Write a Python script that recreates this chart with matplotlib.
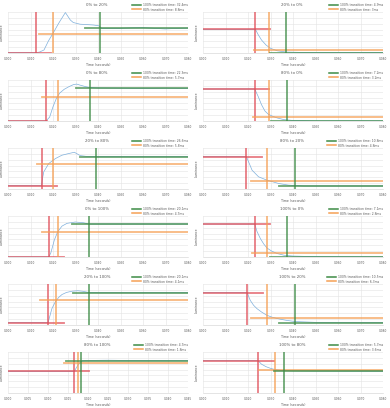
import numpy as np
import matplotlib.pyplot as plt
from matplotlib.lines import Line2D

# titles and legend values
titles = ['0% to 20%', '20% to 0%', '0% to 80%', '80% to 0%',
          '20% to 80%', '80% to 20%', '0% to 100%', '100% to 0%',
          '20% to 100%', '100% to 20%', '80% to 100%', '100% to 80%']
t100 = ['32.4ms', '4.9ms', '22.3ms', '7.2ms', '26.6ms', '10.8ms',
        '20.1ms', '7.1ms', '20.1ms', '10.5ms', '4.7ms', '5.7ms']
t80 = ['8.8ms', '3ms', '5.7ms', '3.2ms', '5.8ms', '4.8ms',
       '4.7ms', '2.8ms', '4.1ms', '6.3ms', '1.8ms', '3.6ms']

# x range (ms) and tick step (ms)
xmax_ms = [80, 80, 80, 80, 80, 80, 80, 80, 80, 80, 45, 80]
xstep_ms = [10, 10, 10, 10, 10, 10, 10, 10, 10, 10, 5, 10]

# marker lines (ms)
red_x = [12.5, 23.3, 16.9, 23.0, 14.9, 19.3, 18.1, 23.0, 17.8, 19.6, 16.6, 24.5]
orange_x = [19.9, 29.5, 22.1, 29.5, 19.9, 28.4, 22.1, 28.4, 21.5, 28.4, 17.5, 31.8]
green_x = [40.9, 36.8, 36.5, 37.3, 39.0, 40.9, 35.8, 37.3, 35.8, 40.7, 18.2, 35.8]
red_end = [18.9, 29.9, 17.4, 29.5, 21.8, 26.2, 24.7, 29.9, 24.7, 26.7, 20.2, 31.4]
orange_from = [13.7, 22.5, 15.2, 22.1, 13.0, 21.5, 15.2, 21.8, 14.4, 21.5, 14.0, 24.7]
green_from = [34.3, 29.9, 30.3, 30.3, 32.1, 33.9, 28.4, 29.9, 28.9, 33.9, 14.4, 31.4]

# levels (luminance, % of axis)
start_lvl = [1.6, 57.6, 1.0, 77.6, 8.8, 78.4, 1.0, 80.0, 6.4, 78.4, 52.8, 78.4]
mid_lvl = [45.6, 8.0, 59.0, 9.6, 61.6, 19.2, 60.0, 11.2, 60.8, 16.8, 72.8, 56.0]
end_lvl = [60.0, 1.6, 79.0, 1.0, 78.4, 8.0, 80.0, 1.0, 78.4, 6.4, 78.4, 52.8]

# measured curves
curve_t = [
    [0, 12.5, 14, 16, 18, 20, 22.5, 25.5, 27.7, 29, 32, 38, 40.5, 41.5, 50, 55, 60, 65, 70, 75, 80],
    [0, 23.3, 24.5, 26, 28, 30, 33, 37, 45, 80],
    [0, 16.9, 18.5, 20, 21.5, 23, 25, 27, 29, 30.5, 32, 34, 36.5, 40, 50, 60, 70, 80],
    [0, 23.0, 24.5, 26, 27.5, 29, 31, 33, 36, 40, 50, 80],
    [0, 14.9, 15.3, 15.9, 18.1, 21.1, 24, 27, 29.5, 32.1, 35, 45, 60, 80],
    [0, 19.3, 21.8, 24.7, 28.4, 33.6, 38, 45, 80],
    [0, 18.1, 19, 20.6, 22.1, 24, 26.2, 29.9, 33.6, 35.8, 40, 80],
    [0, 23.0, 24, 25.5, 27, 28.5, 30.5, 33, 36, 40, 50, 80],
    [0, 17.8, 18.5, 19.5, 21, 22.5, 24, 26, 28.5, 31, 33, 35.8, 40, 80],
    [0, 19.6, 21, 22.5, 24, 26, 28.4, 31, 34, 37, 41, 50, 80],
    [0, 16.6, 17, 17.5, 18, 18.5, 20, 25, 30, 40, 45],
    [0, 24.5, 26, 28, 30, 32, 35, 40, 50, 80],
]
curve_y = [
    [1.6, 1.6, 3, 8, 30, 48, 72, 98, 80, 74, 70, 68, 66, 60, 60, 61, 61.5, 60, 58.5, 60, 60.5],
    [57.6, 57.6, 45, 32, 20, 12, 6, 3, 2, 1.5],
    [1, 1, 10, 35, 55, 68, 77, 83, 88, 89.5, 87, 84, 81, 80, 79.5, 79, 79.5, 79],
    [77.6, 77.6, 60, 40, 25, 17, 12, 8, 4, 2, 1, 1],
    [8.8, 8.8, 25, 42, 62, 74, 82, 86, 89, 81, 79, 78.5, 78.4, 78.4],
    [78.4, 78.4, 46, 30, 22, 14, 10, 8, 8],
    [1, 1, 10, 41.6, 61.6, 75, 81.6, 84.8, 83, 80, 80, 80],
    [80, 80, 62, 45, 32, 22, 15, 9, 5, 3, 1.5, 1],
    [6.4, 6.4, 20, 40, 56, 67, 74, 79, 82, 83, 82, 79, 78.4, 78.4],
    [78.4, 78.4, 60, 48, 40, 32, 24, 19, 15, 12, 9, 7, 6.4],
    [52.8, 52.8, 60, 68, 74, 78, 79, 79.5, 79, 78.5, 79],
    [78.4, 78.4, 70, 64, 60, 57, 55, 54, 53.5, 53],
]

RED = '#e0505a'
ORANGE = '#f5a055'
GREEN = '#3d8b45'
BLUE = '#7fb0dc'
TXT = '#595959'

W, H = 390, 408
fig = plt.figure(figsize=(W / 100, H / 100), dpi=100)

for i in range(12):
    r, c = divmod(i, 2)
    x0 = c * 195 + 8
    top = r * 68 + 11.7
    bot = r * 68 + 53.3
    ax = fig.add_axes([x0 / W, 1 - bot / H, 180 / W, (bot - top) / H])
    xm = xmax_ms[i] / 1000

    ax.plot(np.array(curve_t[i]) / 1000, curve_y[i], color=BLUE, lw=0.5, zorder=2)

    lw = 1.3
    ax.plot([0, red_end[i] / 1000], [start_lvl[i]] * 2, color=RED, lw=lw, alpha=0.75, zorder=3)
    ax.axvline(red_x[i] / 1000, color=RED, lw=lw, alpha=0.75, zorder=3)
    ax.plot([orange_from[i] / 1000, xm], [mid_lvl[i]] * 2, color=ORANGE, lw=lw, alpha=0.75, zorder=3)
    ax.axvline(orange_x[i] / 1000, color=ORANGE, lw=lw, alpha=0.75, zorder=3)
    ax.plot([green_from[i] / 1000, xm], [end_lvl[i]] * 2, color=GREEN, lw=lw, alpha=0.75, zorder=3)
    ax.axvline(green_x[i] / 1000, color=GREEN, lw=lw, alpha=0.75, zorder=3)

    ax.set_xlim(0, xm)
    ax.set_ylim(0, 100)
    step = xstep_ms[i] / 1000
    xt = np.arange(0, xm + step / 2, step)
    ax.set_xticks(xt)
    ax.set_xticklabels(['%.3f' % v for v in xt], fontsize=2.1, color=TXT)
    ax.set_yticks(np.linspace(0, 100, 8))
    ax.set_yticklabels([])
    ax.tick_params(length=0, pad=2.5)
    ax.grid(True, color='#e3e3e3', lw=0.4)
    ax.set_axisbelow(True)
    for s in ['top', 'right', 'left']:
        ax.spines[s].set_visible(False)
    ax.spines['bottom'].set_color('#d0d0d0')
    ax.spines['bottom'].set_linewidth(0.4)
    ax.set_xlabel('Time (seconds)', fontsize=2.3, color=TXT, labelpad=1.5)
    ax.set_ylabel('Luminance', fontsize=2.3, color=TXT, labelpad=1)

    fig.text((x0 + 89) / W, 1 - (r * 68 + 5) / H, titles[i], fontsize=2.8,
             color=TXT, ha='center', va='center')

    handles = [Line2D([], [], color=GREEN, lw=1.1),
               Line2D([], [], color=ORANGE, lw=1.1)]
    labels = ['100% transition time: ' + t100[i], '80% transition time: ' + t80[i]]
    ax.legend(handles, labels, loc='upper right', fontsize=2.2, frameon=False,
              bbox_to_anchor=((c * 195 + 190) / W, 1 - (r * 68 + 0.5) / H),
              bbox_transform=fig.transFigure, handlelength=3, handletextpad=0.6,
              labelspacing=0.3, borderpad=0.2, labelcolor=TXT)

fig.savefig('out.png', dpi=100)
